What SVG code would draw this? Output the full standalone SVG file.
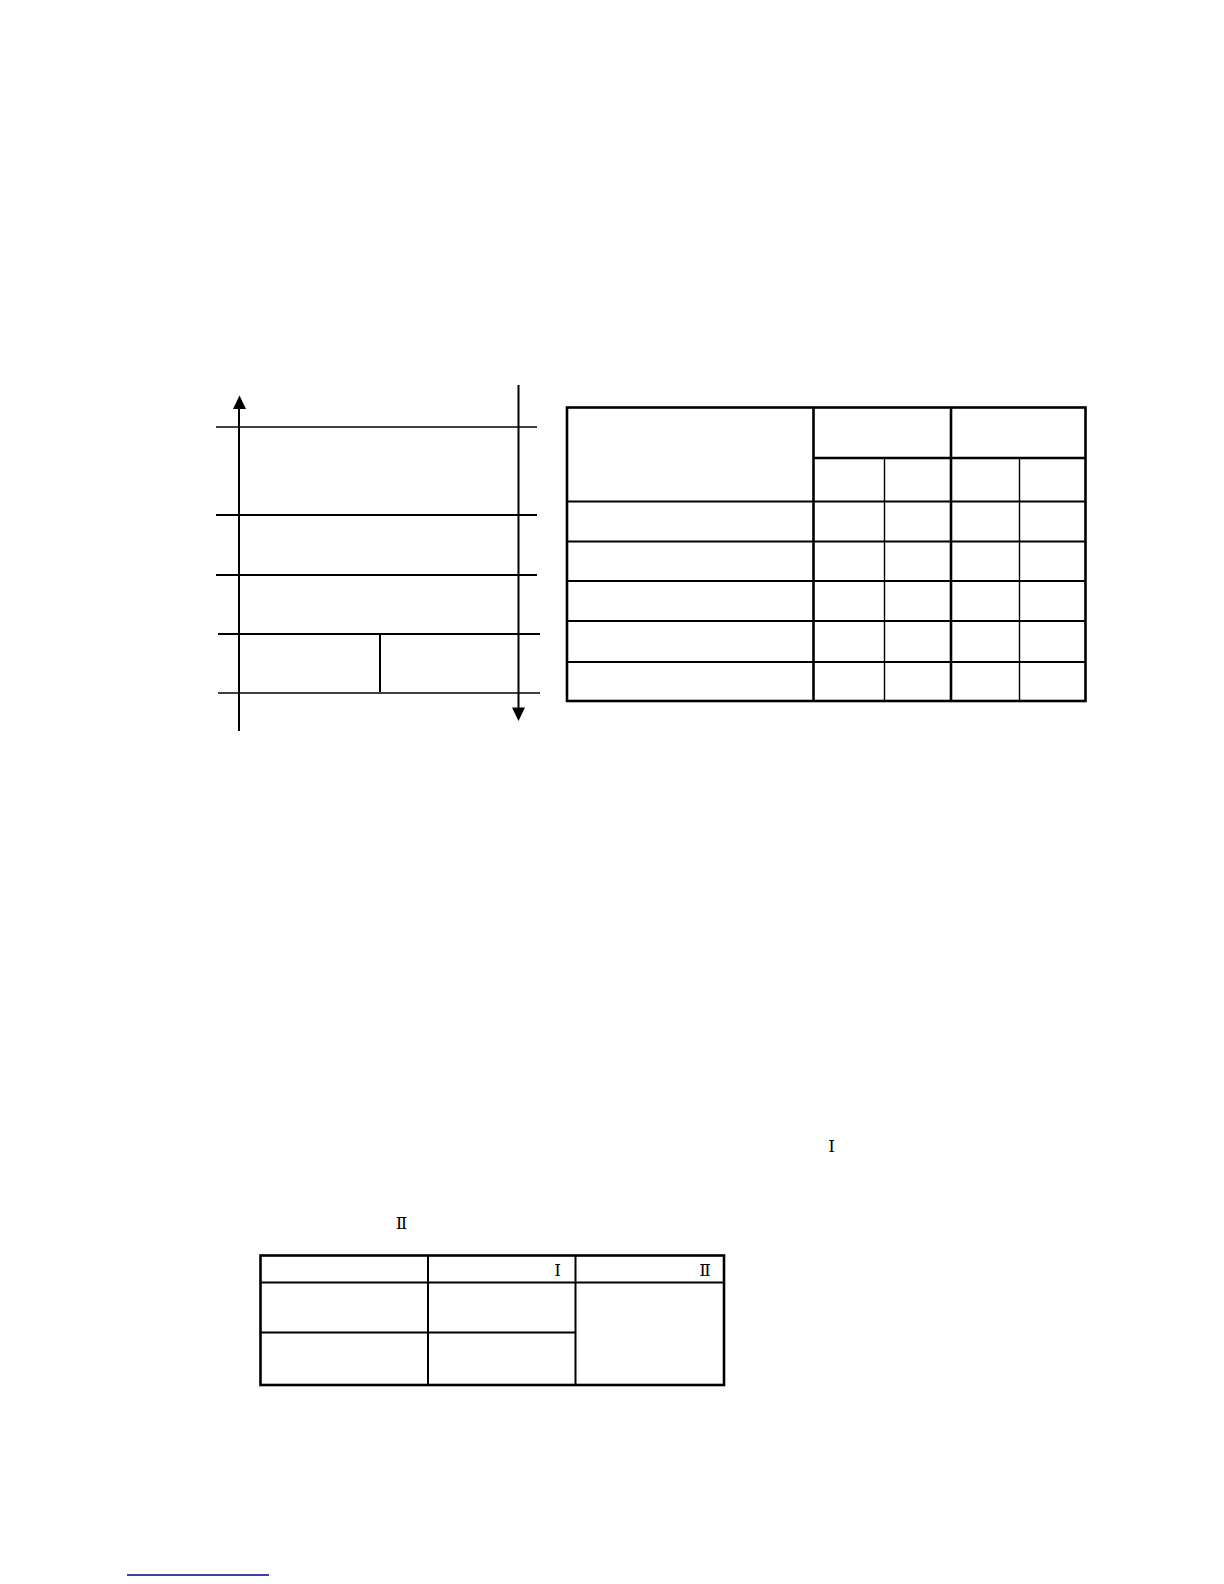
<svg xmlns="http://www.w3.org/2000/svg" width="1224" height="1584" viewBox="0 0 1224 1584">
<style>
.thin{stroke:#000;stroke-width:1.4;fill:none}
.mid{stroke:#000;stroke-width:2;fill:none}
.thick{stroke:#000;stroke-width:2.6;fill:none}
.rn{font-family:"DejaVu Serif","Noto Sans CJK SC",serif;font-size:17px;fill:#000;text-anchor:middle}
</style>
<rect width="1224" height="1584" fill="#fff"/>
<g id="layers">
<line class="thin" x1="216" y1="427" x2="537" y2="427"/>
<line class="mid" x1="216" y1="515" x2="537" y2="515"/>
<line class="mid" x1="216" y1="575" x2="537" y2="575"/>
<line class="mid" x1="218" y1="634" x2="540" y2="634"/>
<line class="thin" x1="218" y1="693" x2="540" y2="693"/>
<line class="mid" x1="380" y1="634" x2="380" y2="692"/>
</g>
<g id="connectors">
<line class="mid" x1="239" y1="731" x2="239" y2="409"/>
<path d="M233,409 L239.5,395.5 L246,409 Z" fill="#000"/>
<line class="mid" x1="518.5" y1="385" x2="518.5" y2="708"/>
<path d="M512,707.5 L518.5,721 L525,707.5 Z" fill="#000"/>
</g>
<g id="table1">
<rect class="thick" x="567" y="407.5" width="518.5" height="293.5"/>
<line class="thick" x1="813.5" y1="407.5" x2="813.5" y2="701"/>
<line class="thick" x1="951" y1="407.5" x2="951" y2="701"/>
<line class="thin" x1="884.5" y1="458" x2="884.5" y2="701"/>
<line class="thin" x1="1019.5" y1="458" x2="1019.5" y2="701"/>
<line class="thick" x1="813.5" y1="458" x2="1085.5" y2="458"/>
<line class="mid" x1="567" y1="501.5" x2="1085.5" y2="501.5"/>
<line class="mid" x1="567" y1="541.5" x2="1085.5" y2="541.5"/>
<line class="mid" x1="567" y1="581" x2="1085.5" y2="581"/>
<line class="mid" x1="567" y1="621" x2="1085.5" y2="621"/>
<line class="mid" x1="567" y1="662" x2="1085.5" y2="662"/>
</g>
<g id="text-notes">
<text class="rn" x="831.5" y="1152">Ⅰ</text>
<text class="rn" x="401.5" y="1229">Ⅱ</text>
</g>
<g id="table2">
<rect class="thick" x="260.5" y="1255.5" width="463.5" height="129.5"/>
<line class="mid" x1="428" y1="1255.5" x2="428" y2="1385"/>
<line class="mid" x1="575.5" y1="1255.5" x2="575.5" y2="1385"/>
<line class="mid" x1="260.5" y1="1282.5" x2="724" y2="1282.5"/>
<line class="mid" x1="260.5" y1="1332.5" x2="575.5" y2="1332.5"/>
<text class="rn" x="557.5" y="1276">Ⅰ</text>
<text class="rn" x="705" y="1276">Ⅱ</text>
</g>
<g id="footer">
<line x1="127" y1="1575" x2="269" y2="1575" stroke="#000080" stroke-width="1.5"/>
</g>
</svg>
